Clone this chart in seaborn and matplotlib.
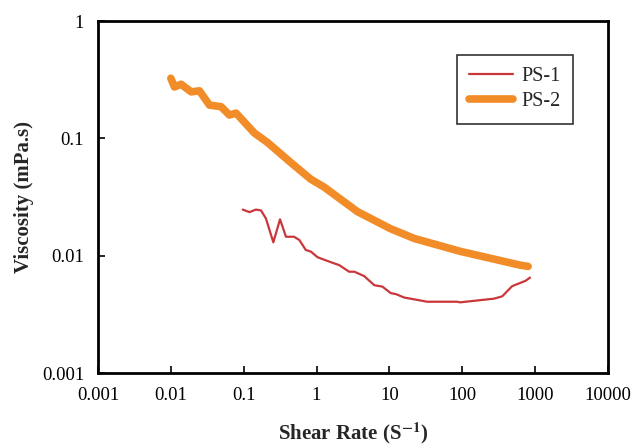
import numpy as np
import pandas as pd
import matplotlib
matplotlib.use("Agg")
import matplotlib.pyplot as plt
import seaborn as sns

ps1_x = [0.097, 0.12, 0.147, 0.173, 0.202, 0.255, 0.315, 0.38, 0.49, 0.58, 0.71, 0.84,
         1.03, 1.57, 2.05, 2.8, 3.3, 4.5, 6.2, 8.0, 10.4, 12.3, 15.9, 33, 50, 85.5, 93,
         160, 272, 353, 484, 737, 850]
ps1_y = [0.0247, 0.0235, 0.0247, 0.0243, 0.0207, 0.013, 0.0204, 0.0145, 0.0145, 0.0136,
         0.0112, 0.0108, 0.0097, 0.0088, 0.0083, 0.0073, 0.0073, 0.0067, 0.0056, 0.00545,
         0.0048, 0.0047, 0.0044, 0.00405, 0.00405, 0.00405, 0.0040, 0.00415, 0.0043,
         0.0045, 0.0055, 0.0061, 0.0065]

ps2_x = [0.01, 0.0112, 0.0138, 0.019, 0.0247, 0.0339, 0.0489, 0.0637, 0.0785, 0.14, 0.213,
         0.44, 0.83, 1.27, 3.65, 10.3, 22, 93, 623, 800]
ps2_y = [0.325, 0.274, 0.289, 0.249, 0.254, 0.192, 0.186, 0.158, 0.164, 0.111, 0.092,
         0.0624, 0.0449, 0.0384, 0.0237, 0.017, 0.014, 0.0109, 0.0083, 0.0081]

xticks = [0.001, 0.01, 0.1, 1, 10, 100, 1000, 10000]
xticklabels = ["0.001", "0.01", "0.1", "1", "10", "100", "1000", "10000"]
yticks = [0.001, 0.01, 0.1, 1]
yticklabels = ["0.001", "0.01", "0.1", "1"]

df = pd.concat([
    pd.DataFrame({"x": ps1_x, "y": ps1_y, "s": "PS-1"}),
    pd.DataFrame({"x": ps2_x, "y": ps2_y, "s": "PS-2"}),
], ignore_index=True)

sns.set_style("white")
plt.rcParams["font.family"] = ["Liberation Serif", "DejaVu Serif"]
plt.rcParams["mathtext.fontset"] = "stix"

W, H = 633, 446
L, R, T, B = 98, 608, 21, 373
fig = plt.figure(figsize=(W / 100, H / 100), dpi=100)
ax = fig.add_axes([L / W, 1 - B / H, (R - L) / W, (B - T) / H])

sns.lineplot(data=df[df.s == "PS-1"], x="x", y="y", sort=False, ax=ax,
             color="#C9373B", linewidth=1.6, label="PS-1", estimator=None)
sns.lineplot(data=df[df.s == "PS-2"], x="x", y="y", sort=False, ax=ax,
             color="#F28C28", linewidth=5.5, label="PS-2", estimator=None,
             solid_capstyle="round")

ax.set_xscale("log")
ax.set_yscale("log")
ax.set_xlim(0.001, 10000)
ax.set_ylim(0.001, 1)
ax.set_xticks(xticks)
ax.set_xticklabels(xticklabels)
ax.set_yticks(yticks)
ax.set_yticklabels(yticklabels)
ax.minorticks_off()
ax.tick_params(axis="both", which="major", direction="in", length=5, width=1.2,
               labelsize=13.5, colors="black")
ax.tick_params(axis="x", top=False, bottom=True, pad=10)
ax.tick_params(axis="y", left=True, right=False, pad=10)
for sp in ax.spines.values():
    sp.set_visible(True)
    sp.set_color("black")
    sp.set_linewidth(2.0)

ax.set_xlabel("Shear Rate (S$^{\\mathbf{-1}}$)", fontsize=15, fontweight="bold", labelpad=12)
ax.set_ylabel("Viscosity (mPa.s)", fontsize=15, fontweight="bold", labelpad=6)

leg = ax.legend(loc="upper right", bbox_to_anchor=(0.931, 0.903), fontsize=14.5,
                frameon=True, fancybox=False, edgecolor="black", handlelength=2.2,
                handletextpad=0.4, borderpad=0.6, labelspacing=0.3, borderaxespad=0)
leg.get_frame().set_linewidth(1.2)

fig.savefig("out.png", dpi=100)
